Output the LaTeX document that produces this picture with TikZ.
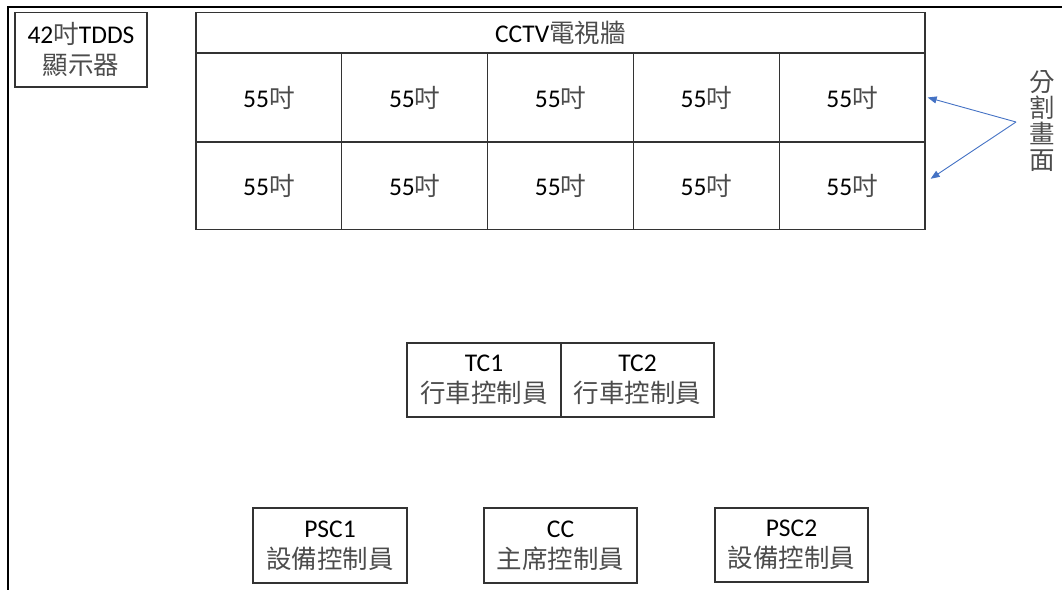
\documentclass[tikz,border=0pt]{standalone}
\usepackage{fontspec}
\setmainfont{Carlito}
\newfontfamily\cjkfont{Noto Sans CJK TC}
\usetikzlibrary{arrows.meta,calc}
\newcommand{\zh}[1]{{\cjkfont\color{black!70}#1}}
\definecolor{arrowblue}{HTML}{4472C4}
\tikzset{
  boxstyle/.style={draw=black!80, line width=1.3pt, inner sep=0pt, align=center,
    font=\fontsize{25.5}{31}\selectfont, text=black},
  cellstyle/.style={boxstyle, minimum width=145.8pt},
  framestyle/.style={line width=2pt, black},
  callout/.style={draw=arrowblue, line width=0.9pt, -{Triangle[length=9pt,width=7pt]}}
}
\begin{document}
\begin{tikzpicture}[x=1pt,y=-1pt]
\useasboundingbox (0,0) rectangle (1062,589);
% outer frame (partially visible)
\draw[framestyle] (8,600) -- (8,7) -- (1070,7);
% TDDS display
\node[boxstyle, minimum width=132pt, minimum height=74.5pt] (tdds) at (81,49.75)
  {42\zh{吋}TDDS\\\zh{顯示器}};
% CCTV wall header
\node[boxstyle, minimum width=729pt, minimum height=40.5pt] (cctv) at (560.5,32.75)
  {CCTV\zh{電視牆}};
% wall cells
\foreach \i/\x in {1/268.9,2/414.7,3/560.5,4/706.3,5/852.1}{
  \node[cellstyle, minimum height=89pt] (a\i) at (\x,97.5) {55\zh{吋}};
  \node[cellstyle, minimum height=87.5pt] (b\i) at (\x,185.75) {55\zh{吋}};
}
% label and arrows
\node[inner sep=0pt, align=center, font=\fontsize{25.5}{26}\selectfont] (split) at (1042,121.5)
  {\zh{分}\\\zh{割}\\\zh{畫}\\\zh{面}};
\coordinate (splitpt) at (1016,122);
\draw[callout] (splitpt) -- ([shift={(2,0)}]a5.east);
\draw[callout] (splitpt) -- ([shift={(5,-7)}]b5.east);
% train controllers
\node[boxstyle, minimum width=154pt, minimum height=74pt] (tc1) at (484,380) {TC1\\\zh{行車控制員}};
\node[boxstyle, minimum width=153pt, minimum height=74pt] (tc2) at (637.5,380) {TC2\\\zh{行車控制員}};
% bottom row
\node[boxstyle, minimum width=154pt, minimum height=75pt] (psc1) at (330,545.5) {PSC1\\\zh{設備控制員}};
\node[boxstyle, minimum width=153pt, minimum height=75pt] (cc) at (560.5,545.5) {CC\\\zh{主席控制員}};
\node[boxstyle, minimum width=153pt, minimum height=74pt] (psc2) at (791.5,545) {PSC2\\\zh{設備控制員}};
\end{tikzpicture}
\end{document}
